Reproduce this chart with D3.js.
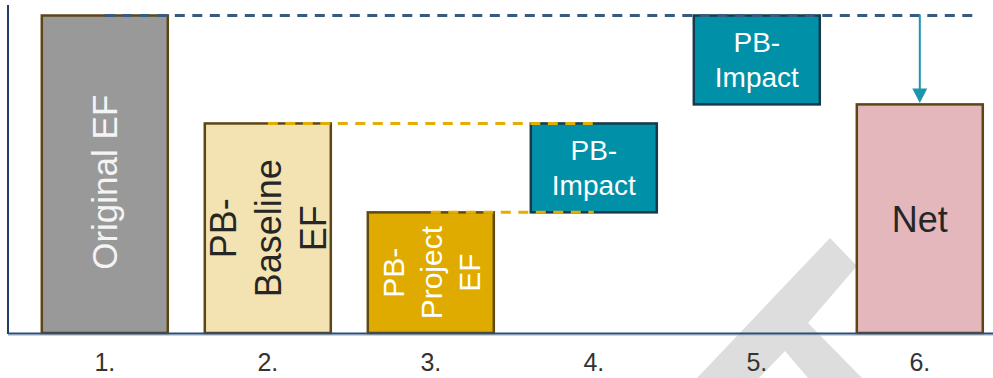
<!DOCTYPE html>
<html>
<head>
<meta charset="utf-8">
<script src="https://cdn.jsdelivr.net/npm/d3@7"></script>
<style>
  html, body { margin: 0; padding: 0; background: #ffffff; }
  svg { display: block; }
  text { font-family: "Liberation Sans", Arial, sans-serif; }
</style>
</head>
<body>
<svg id="chart" width="993" height="378"></svg>
<script>
// Step labels along the x axis
const categories = ["1.", "2.", "3.", "4.", "5.", "6."];
// Text shown inside each bar (one entry per line)
const barLabelLines = [
  ["Original EF"],
  ["PB-", "Baseline", "EF"],
  ["PB-", "Project", "EF"],
  ["PB-", "Impact"],
  ["PB-", "Impact"],
  ["Net"]
];
// Bottom and top of each floating bar (emission factor, relative units)
const barLow  = [0,   0,  0, 38, 72,  0];
const barHigh = [100, 66, 38, 66, 100, 72];
// Dashed guide lines: from one step to another at a level
const guideFrom  = ["1.", "2.", "3."];
const guideTo    = ["6.", "4.", "4."];
const guideLevel = [100, 66, 38];
// Arrow showing the impact deduction on the net bar
const arrowStep = "6.";
const arrowFrom = 100;
const arrowTo = 72;

const W = 993, H = 378;
const svg = d3.select("#chart");

const x = d3.scaleBand()
  .domain(categories)
  .range([23.3, 1001.3])
  .paddingInner(0.2117)
  .paddingOuter(0.10585);

const y = d3.scaleLinear().domain([0, 100]).range([333, 15.5]);

// Light backdrop emblem behind the plot
svg.append("path")
  .attr("d", "M697,378 L830,238 L857,266 L808,323 L862,378 L808,378 L785,351 L759,378 Z")
  .attr("fill", "#dddddd");

const fills   = ["#999999", "#f3e3b2", "#dfab00", "#0091a8", "#0091a8", "#e4b7bd"];
const strokes = ["#5b4614", "#5b4614", "#5e4a12", "#17394a", "#17394a", "#5b4614"];
const textColors = ["#f4f4f4", "#262626", "#ffffff", "#ffffff", "#ffffff", "#262626"];
const fontSizes = [35, 36, 30, 28, 28, 36];
const lineHeights = [40, 45, 38, 35, 35, 40];
const rotated = [true, true, true, false, false, false];
const labelShift = [8, 0, 0, 0, 0, 0];

const rows = categories.map((c, i) => ({
  c, i, lo: barLow[i], hi: barHigh[i], lines: barLabelLines[i]
}));

// y axis line
svg.append("line")
  .attr("x1", 8).attr("x2", 8).attr("y1", 5).attr("y2", y(0) + 1)
  .attr("stroke", "#1f3d66").attr("stroke-width", 2);

// Bars
const sw = 2.5;
svg.append("g").selectAll("rect")
  .data(rows)
  .join("rect")
  .attr("x", d => x(d.c) + sw / 2)
  .attr("y", d => y(d.hi))
  .attr("width", x.bandwidth() - sw)
  .attr("height", d => y(d.lo) - y(d.hi))
  .attr("fill", d => fills[d.i])
  .attr("stroke", d => strokes[d.i])
  .attr("stroke-width", sw);

// x axis baseline with its soft shadow
svg.append("line")
  .attr("x1", 8).attr("x2", W).attr("y1", y(0) + 2.2).attr("y2", y(0) + 2.2)
  .attr("stroke", "#b7c3d3").attr("stroke-width", 1);
const xAxis = d3.axisBottom(x).tickSize(0).tickPadding(0);
const gx = svg.append("g").attr("transform", `translate(0,${y(0)})`).call(xAxis);
gx.select(".domain")
  .attr("d", `M8,0.5H${W}`)
  .attr("stroke", "#2d4d78").attr("stroke-width", 2);
gx.selectAll(".tick text")
  .attr("y", 37.5)
  .attr("dy", null)
  .attr("fill", "#333333")
  .attr("font-size", 25)
  .attr("font-family", "'Liberation Sans', Arial, sans-serif");

// Bar labels
const labels = svg.append("g").selectAll("g")
  .data(rows)
  .join("g")
  .attr("transform", d => {
    const cx = x(d.c) + x.bandwidth() / 2;
    const cy = (y(d.lo) + y(d.hi)) / 2 + labelShift[d.i];
    return rotated[d.i] ? `translate(${cx},${cy}) rotate(-90)` : `translate(${cx},${cy})`;
  });

labels.each(function(d) {
  const g = d3.select(this);
  const n = d.lines.length;
  const fs = fontSizes[d.i], lh = lineHeights[d.i];
  const cap = fs * 0.716;
  g.selectAll("text")
    .data(d.lines)
    .join("text")
    .attr("text-anchor", "middle")
    .attr("x", 0)
    .attr("y", (t, k) => (k - (n - 1) / 2) * lh + cap / 2)
    .attr("font-size", fs)
    .attr("fill", textColors[d.i])
    .text(t => t);
});

// Dashed guide lines
const guides = guideLevel.map((v, i) => ({
  x1: x(guideFrom[i]) + x.bandwidth() / 2,
  x2: guideTo[i] === "6." ? x(guideTo[i]) + x.bandwidth() - 8 : x(guideTo[i]) + x.bandwidth() / 2,
  v, gold: i > 0
}));
svg.append("g").selectAll("line")
  .data(guides)
  .join("line")
  .attr("x1", d => d.x1).attr("x2", d => d.x2)
  .attr("y1", d => y(d.v)).attr("y2", d => y(d.v))
  .attr("stroke", d => d.gold ? "#e3ae00" : "#365a80")
  .attr("stroke-width", 3)
  .attr("stroke-dasharray", "10,7.5");

// Arrow
const ax = x(arrowStep) + x.bandwidth() / 2;
svg.append("line")
  .attr("x1", ax).attr("x2", ax)
  .attr("y1", y(arrowFrom) - 1).attr("y2", y(arrowTo) - 14)
  .attr("stroke", "#1a96ad").attr("stroke-width", 2);
svg.append("path")
  .attr("d", d3.line()([[ax - 7.5, y(arrowTo) - 16], [ax + 7.5, y(arrowTo) - 16], [ax, y(arrowTo) - 1.5]]) + "Z")
  .attr("fill", "#1a96ad");
</script>
</body>
</html>
